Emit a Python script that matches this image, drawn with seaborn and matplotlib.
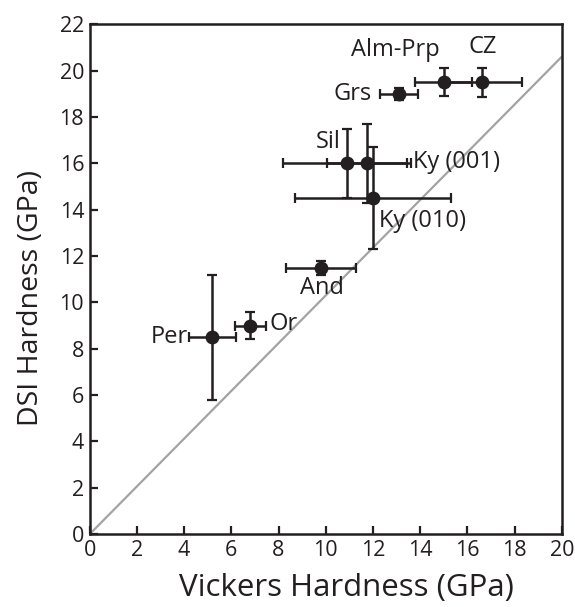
import seaborn as sns
import matplotlib.pyplot as plt
import pandas as pd

# minerals: Vickers vs DSI hardness (GPa)
minerals = ['Per', 'Or', 'And', 'Sil', 'Ky (001)', 'Ky (010)', 'Grs', 'Alm-Prp', 'CZ']
vickers = [5.2, 6.8, 9.8, 10.9, 11.75, 12.0, 13.1, 15.0, 16.6]
vickers_err = [1.0, 0.65, 1.5, 2.7, 1.7, 3.3, 0.8, 1.2, 1.7]
dsi = [8.5, 9.0, 11.5, 16.0, 16.0, 14.5, 19.0, 19.5, 19.5]
dsi_err = [2.7, 0.6, 0.3, 1.5, 1.7, 2.2, 0.25, 0.6, 0.63]

# label anchors (text placement)
label_x = [4.15, 7.6, 9.85, 10.1, 13.7, 12.25, 11.95, 12.95, 16.65]
label_y = [8.5, 9.05, 10.6, 16.9, 16.05, 13.5, 19.0, 20.9, 21.0]
label_ha = ['right', 'left', 'center', 'center', 'left', 'left', 'right', 'center', 'center']

# reference line
diag_x = [0, 20]
diag_y = [0, 20.6]

df = pd.DataFrame({'mineral': minerals, 'vickers': vickers, 'dsi': dsi,
                   'xerr': vickers_err, 'yerr': dsi_err})

sns.set_theme(style="ticks")
plt.rcParams['font.family'] = ['Open Sans', 'DejaVu Sans']

ink = '#231f20'
fig, ax = plt.subplots(figsize=(5.75, 6.07), dpi=100)
fig.subplots_adjust(left=0.156, right=0.977, bottom=0.12, top=0.96)

sns.lineplot(x=diag_x, y=diag_y, color='#a3a3a3', lw=1.6, ax=ax, zorder=1)

ax.errorbar(df.vickers, df.dsi, xerr=df.xerr, yerr=df.yerr, fmt='none',
            ecolor=ink, elinewidth=1.8, capsize=3.6, capthick=1.6, zorder=2)
sns.scatterplot(data=df, x='vickers', y='dsi', color=ink, s=100,
                edgecolor=ink, linewidth=0, ax=ax, zorder=3)

for lx, ly, t, ha in zip(label_x, label_y, minerals, label_ha):
    ax.text(lx, ly, t, ha=ha, va='center', fontsize=17, color=ink, zorder=4)

ax.set_xlim(0, 20)
ax.set_ylim(0, 22)
ax.set_xticks(range(0, 21, 2))
ax.set_yticks(range(0, 23, 2))
ax.tick_params(direction='in', length=6, width=1.6, labelsize=15.5,
               colors=ink, pad=4)
for s in ax.spines.values():
    s.set_linewidth(1.8)
    s.set_color(ink)

ax.set_xlabel('Vickers Hardness (GPa)', fontsize=22.5, color=ink)
ax.set_ylabel('DSI Hardness (GPa)', fontsize=20.5, color=ink)
ax.xaxis.set_label_coords(0.543, -0.076)
ax.yaxis.set_label_coords(-0.095, 0.463)

plt.savefig('out.png', dpi=100)
